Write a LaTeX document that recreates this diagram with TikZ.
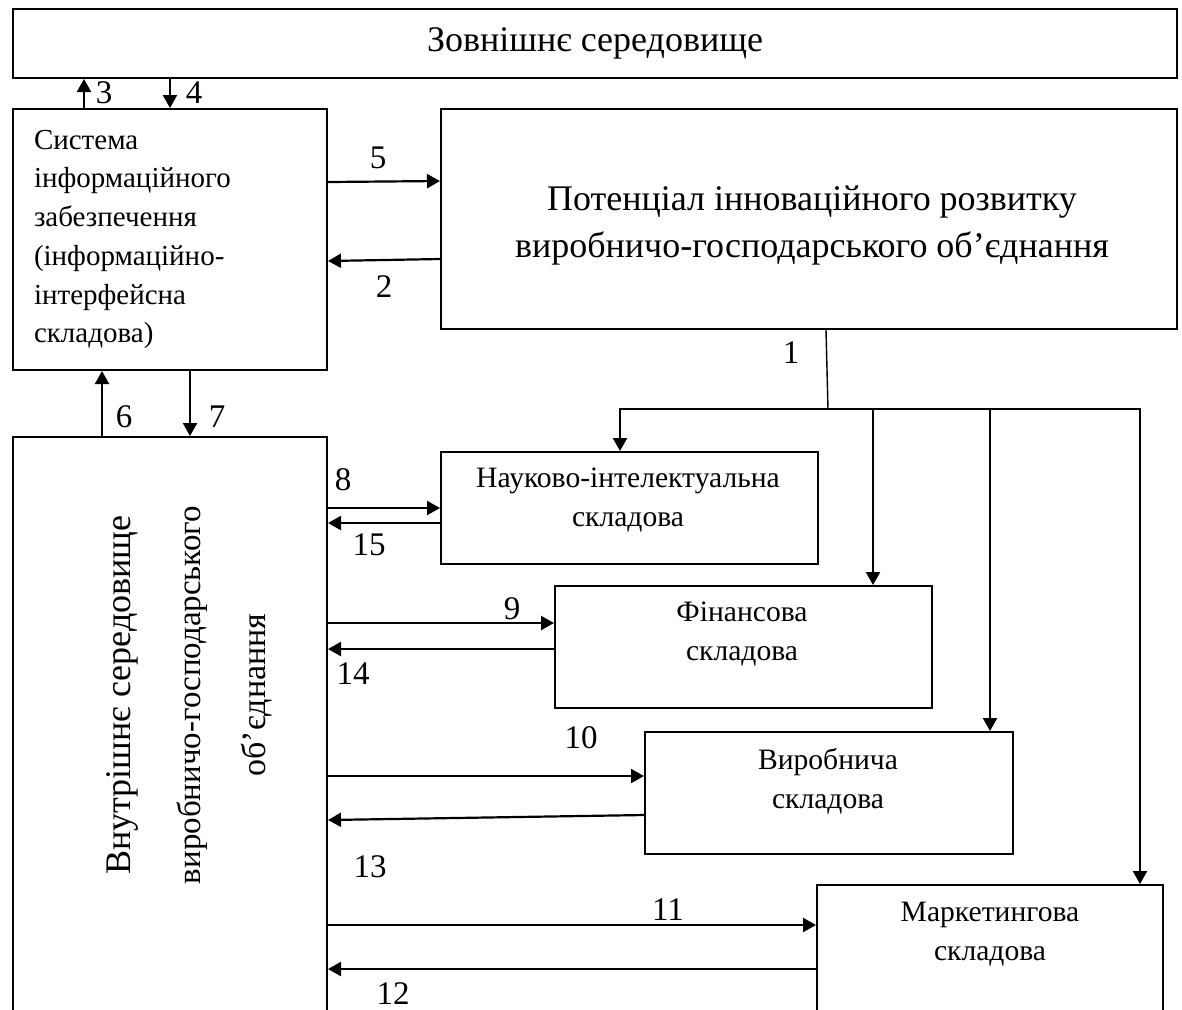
\documentclass[tikz,border=0pt]{standalone}
\usepackage{fontspec}
\setmainfont{Liberation Serif}
\usetikzlibrary{arrows.meta}
\begin{document}
\begin{tikzpicture}[x=0.5pt,y=-0.5pt,
  box/.style={draw,line width=1pt,inner sep=0pt,anchor=north west},
  arr/.style={line width=1.1pt,-{Triangle[length=6.5pt,width=7pt]}},
  num/.style={font=\fontsize{16.5}{16.5}\selectfont,inner sep=0pt},
  ctext/.style={align=center,font=\fontsize{14.8}{19.5}\selectfont,inner sep=0pt},
  thinline/.style={line width=0.7pt}]
\useasboundingbox (0,0) rectangle (1182,1009);

% boxes
\node[box,minimum width=582pt,minimum height=34.5pt,font=\fontsize{18}{18}\selectfont] (env) at (12,8) {Зовнішнє середовище};
\node[box,minimum width=157pt,minimum height=130.5pt,text width=136pt,inner xsep=10.5pt,align=left,font=\fontsize{14.5}{19.35}\selectfont] (info) at (12,108)
  {Система\\інформаційного\\забезпечення\\(інформаційно-\\інтерфейсна\\складова)};
\node[box,minimum width=368pt,minimum height=110pt] (pot) at (440,108) {};
\node[align=center,inner sep=0pt,font=\fontsize{18}{23.5}\selectfont] (pott) at (812,225)
  {Потенціал інноваційного розвитку\\виробничо-господарського об’єднання};
\node[box,minimum width=157pt,minimum height=310pt] (inner) at (12,436) {};
\node[rotate=90,inner sep=0pt,font=\fontsize{18}{18}\selectfont] (in1) at (122,695) {Внутрішнє середовище};
\node[rotate=90,inner sep=0pt,font=\fontsize{16.5}{16.5}\selectfont] (in2) at (192,695) {виробничо-господарського};
\node[rotate=90,inner sep=0pt,font=\fontsize{17}{17}\selectfont] (in3) at (257,695) {об’єднання};

\node[box,minimum width=188.5pt,minimum height=56pt] (nauk) at (440,451) {};
\node[ctext] (naukt) at (628,500) {Науково-інтелектуальна\\складова};
\node[box,minimum width=188.5pt,minimum height=61pt] (fin) at (554,585) {};
\node[ctext] (fint) at (742,634) {Фінансова\\складова};
\node[box,minimum width=184pt,minimum height=61pt] (vyr) at (644,731) {};
\node[ctext] (vyrt) at (828,781) {Виробнича\\складова};
\node[box,minimum width=173pt,minimum height=90pt] (mark) at (816,884) {};
\node[ctext] (markt) at (990,934) {Маркетингова\\складова};

% arrows top
\draw[arr] (info.north -| 84,0) -- (env.south -| 84,0);
\draw[arr] (env.south -| 170,0) -- (info.north -| 170,0);
\draw[arr] (info.east |- 0,182) -- (pot.west |- 0,181);
\draw[arr] (pot.west |- 0,259) -- (info.east |- 0,261);
\draw[arr] (inner.north -| 102,0) -- (info.south -| 102,0);
\draw[arr] (info.south -| 190,0) -- (inner.north -| 190,0);

% distribution line 1
\coordinate (br) at (828,409);
\draw[thinline] (pot.south -| 826,0) -- (br);
\draw[arr] (br) -| (nauk.north -| 620,0);
\draw[arr] (br) -| (fin.north -| 873,0);
\draw[arr] (br) -| (vyr.north -| 990,0);
\draw[arr] (br) -| (mark.north -| 1140,0);

% component arrows
\draw[arr] (inner.east |- 0,508) -- (nauk.west |- 0,508);
\draw[arr] (nauk.west |- 0,523) -- (inner.east |- 0,523);
\draw[arr] (inner.east |- 0,623) -- (fin.west |- 0,623);
\draw[arr] (fin.west |- 0,649) -- (inner.east |- 0,649);
\draw[arr] (inner.east |- 0,776) -- (vyr.west |- 0,776);
\draw[arr] (vyr.west |- 0,815) -- (inner.east |- 0,820);
\draw[arr] (inner.east |- 0,925) -- (mark.west |- 0,925);
\draw[arr] (mark.west |- 0,969) -- (inner.east |- 0,969);

% numbers
\node[num] (n3) at (104,93) {3};
\node[num] (n4) at (194,93) {4};
\node[num] (n5) at (378,158) {5};
\node[num] (n2) at (384,287) {2};
\node[num] (n6) at (124,417) {6};
\node[num] (n7) at (217,417) {7};
\node[num] (n1) at (791,353) {1};
\node[num] (n8) at (343,480) {8};
\node[num] (n15) at (369,545) {15};
\node[num] (n9) at (512,609) {9};
\node[num] (n14) at (353,674) {14};
\node[num] (n10) at (581,738) {10};
\node[num] (n13) at (370,867) {13};
\node[num] (n11) at (668,910) {11};
\node[num] (n12) at (393,994) {12};
\end{tikzpicture}
\end{document}
